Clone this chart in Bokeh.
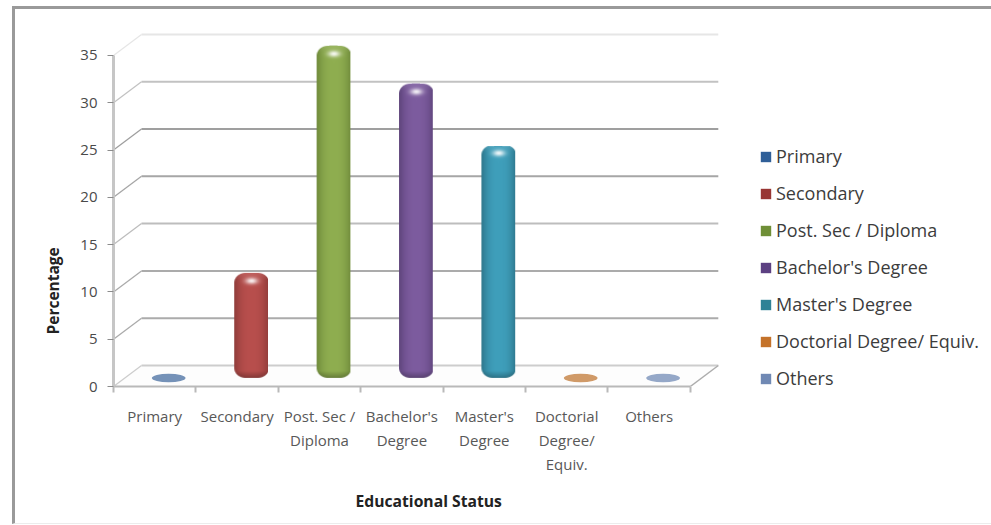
import numpy as np
from bokeh.embed import file_html
from bokeh.models import FixedTicker, Legend, LegendItem, LinearAxis, Range1d, Title
from bokeh.plotting import figure
from bokeh.resources import INLINE

# Survey results by educational status (percent)
categories = ["Primary", "Secondary", "Post. Sec / Diploma", "Bachelor's Degree",
              "Master's Degree", "Doctorial Degree/ Equiv.", "Others"]
axis_labels = ["Primary", "Secondary", "Post. Sec /\nDiploma", "Bachelor's\nDegree",
               "Master's\nDegree", "Doctorial\nDegree/\nEquiv.", "Others"]
values = [0.4, 10.9, 34.9, 30.9, 24.3, 0.3, 0.4]
y_ticks = [0, 5, 10, 15, 20, 25, 30, 35]
grid_colors = ["#cdcdcd", "#ababab", "#ababab", "#bdbdbd", "#a6a6a6", "#9f9f9f", "#c2c2c2", "#e6e6e6"]

legend_colors = ["#2f5f98", "#983533", "#6f8f37", "#5c4082", "#2f8296", "#c4722a", "#7089b4"]
body_colors = ["#7592b8", "#b84f4d", "#8fae50", "#7d5c9f", "#3f9fbb", "#d09a68", "#95a8c8"]
edge_colors = ["#5b7aa3", "#8d3a38", "#6d883a", "#5c4379", "#2c7489", "#b8824f", "#7c90b2"]

PX_X = 82.4     # pixels per category
PX_Y = 9.46     # pixels per percentage point
DEPTH_X = 28 / PX_X
DEPTH_Y = 21 / PX_Y
BAR_W = 0.41
BASE = DEPTH_Y / 2

# Outer frame of the chart area: strong along the top and left, faint along the bottom
frame_css = """
:host::after {
  content: ""; position: absolute; left: 12px; top: 6px; right: 0; bottom: 1px;
  box-sizing: border-box; pointer-events: none;
  border-top: 3px solid #9a9a9a; border-left: 3px solid #9a9a9a; border-bottom: 1px solid #ececec;
}
"""

p = figure(width=991, height=525, output_backend="svg", toolbar_location=None,
           x_range=Range1d(0, 617 / PX_X), y_range=Range1d(0, 366 / PX_Y),
           min_border_left=113, min_border_right=261, min_border_top=20, min_border_bottom=139,
           x_axis_type=None, y_axis_type=None, outline_line_color=None,
           background_fill_color="white", border_fill_color="white",
           stylesheets=[frame_css])
p.grid.visible = False
p.frame_width = 617
p.frame_height = 366


def rgb(h):
    return np.array([int(h[i:i + 2], 16) for i in (1, 3, 5)], dtype=float)


def capsule(v, body, edge):
    """RGBA raster of a rounded, lit column standing v units tall."""
    w = int(round(BAR_W * PX_X))
    h = int(round((v + 0.2) * PX_Y))
    yy, xx = np.mgrid[0:h, 0:w]
    xx = xx + 0.5
    yy = yy + 0.5
    rx, ry = 11.0, 10.0
    cx = np.clip(xx, rx, w - rx)
    cy = np.clip(yy, ry, h - ry)
    dist = np.hypot((xx - cx) / rx, (yy - cy) / ry)
    alpha = np.clip((1 - dist) * 10 + 0.5, 0, 1)
    t = np.abs(xx - w / 2) / (w / 2)
    shade = np.clip((1 - t ** 2.6), 0, 1)[..., None]
    col = rgb(edge) + (rgb(body) - rgb(edge)) * shade
    # the bottom of the column darkens, the cap catches the light
    low = np.clip((7 - yy) / 7, 0, 1)[..., None]
    col = col * (1 - 0.28 * low)
    top = np.clip((yy - (h - 7)) / 7, 0, 1)[..., None]
    col = col + (255 - col) * 0.10 * top
    glow = np.exp(-(((xx - w / 2) / 6) ** 2 + ((yy - (h - 8)) / 3.2) ** 2))[..., None]
    col = col + (255 - col) * 0.9 * glow
    out = np.zeros((h, w, 4), dtype=np.uint8)
    out[..., :3] = np.clip(col, 0, 255).astype(np.uint8)
    out[..., 3] = (alpha * 255).astype(np.uint8)
    return out.view(dtype=np.uint32).reshape(h, w)


# Floor of the box and the gridlines on its back and side walls
p.patch([0, DEPTH_X, 7 + DEPTH_X, 7], [0, DEPTH_Y, DEPTH_Y, 0], fill_color="#fdfdfd", line_color=None)
p.multi_line(xs=[[DEPTH_X, 7 + DEPTH_X] for _ in y_ticks],
             ys=[[t + DEPTH_Y, t + DEPTH_Y] for t in y_ticks],
             line_color=grid_colors, line_width=2)
p.multi_line(xs=[[0, DEPTH_X] for _ in y_ticks],
             ys=[[t, t + DEPTH_Y] for t in y_ticks],
             line_color=grid_colors, line_width=1.3)
p.line([7, 7 + DEPTH_X], [0, DEPTH_Y], line_color="#adadad", line_width=1.5)

# One column per category, standing mid-way into the box depth
items = []
for i, (name, v) in enumerate(zip(categories, values)):
    xc = i + 0.5 + DEPTH_X / 2
    if v < 1:
        # Nearly empty categories collapse to a flat disc on the floor
        yc = BASE - 0.2
        body = p.quad(left=[xc - 0.05], right=[xc + 0.05], bottom=[yc - v / 2], top=[yc + v / 2],
                      fill_color=legend_colors[i], line_color=None)
        p.ellipse(x=[xc], y=[yc], width=BAR_W, height=0.9, fill_color=body_colors[i], line_color=None)
    else:
        body = p.quad(left=[xc - 0.05], right=[xc + 0.05], bottom=[BASE], top=[BASE + v],
                      fill_color=legend_colors[i], line_color=None)
        p.image_rgba(image=[capsule(v, body_colors[i], edge_colors[i])], x=[xc - BAR_W / 2],
                     y=[BASE - 0.2], dw=[BAR_W], dh=[v + 0.2])
    items.append(LegendItem(label=name, renderers=[body]))

text_font = "Open Sans"
ax_color = "#b9b9b9"

y_axis = LinearAxis(ticker=FixedTicker(ticks=y_ticks), bounds=(0, 35))
y_axis.axis_line_color = "#c6c6c6"
y_axis.axis_line_width = 3
y_axis.major_tick_line_color = "#8c8c8c"
y_axis.major_tick_in = 0
y_axis.major_tick_out = 6
y_axis.minor_tick_line_color = None
y_axis.major_label_standoff = 10
y_axis.major_label_text_font = text_font
y_axis.major_label_text_font_size = "15px"
y_axis.major_label_text_color = "#4a4a4a"
p.add_layout(y_axis, "left")

x_axis = LinearAxis(ticker=FixedTicker(ticks=[i + 0.5 for i in range(7)], minor_ticks=list(range(8))),
                    bounds=(0, 7))
x_axis.major_label_overrides = {i + 0.5: t for i, t in enumerate(axis_labels)}
x_axis.axis_line_color = ax_color
x_axis.axis_line_width = 2
x_axis.major_tick_line_color = None
x_axis.minor_tick_line_color = ax_color
x_axis.minor_tick_line_width = 2
x_axis.minor_tick_in = 0
x_axis.minor_tick_out = 6
x_axis.major_label_standoff = 13
x_axis.major_label_text_font = text_font
x_axis.major_label_text_font_size = "15px"
x_axis.major_label_text_color = "#585858"
x_axis.major_label_text_line_height = 1.2
p.add_layout(x_axis, "below")

p.add_layout(Title(text="Percentage", align="left", offset=52, standoff=27, text_font=text_font,
                   text_font_style="bold", text_font_size="15.5px", text_color="#222222"), "left")
p.add_layout(Title(text="Educational Status", align="left", offset=242, standoff=23, text_font=text_font,
                   text_font_style="bold", text_font_size="15.7px", text_color="#222222"), "below")

legend = Legend(items=items, background_fill_alpha=0, border_line_color=None,
                glyph_width=13, glyph_height=13, label_standoff=4, spacing=13,
                label_height=22, label_text_font=text_font, label_text_font_size="18px",
                label_text_color="#3c3c3c", margin=0, padding=0, location=(29, -4))
p.add_layout(legend, "right")

open("out.html", "w").write(file_html(p, INLINE))
